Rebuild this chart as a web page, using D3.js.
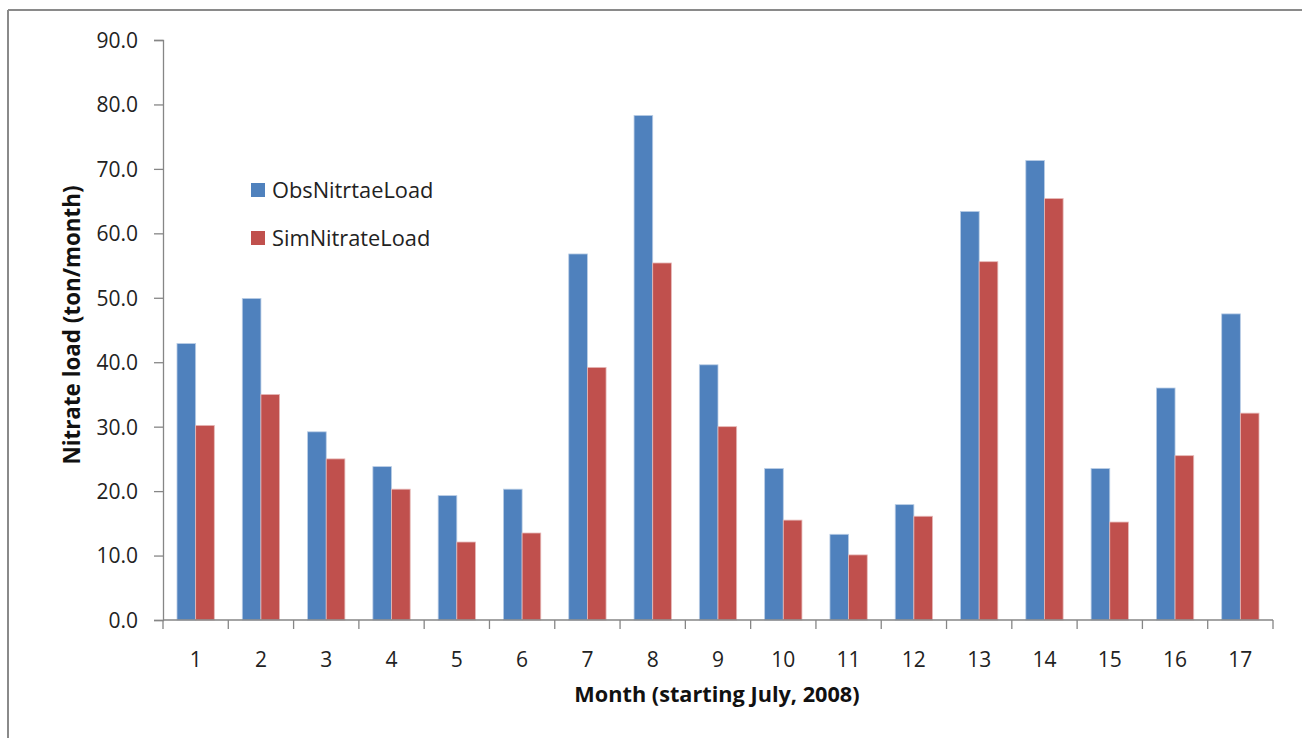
<!DOCTYPE html>
<html><head><meta charset="utf-8">
<script src="https://cdn.jsdelivr.net/npm/d3@7"></script>
<style>body{margin:0;background:#fff;}svg{display:block;}</style>
</head><body>
<script>
const months = ["1","2","3","4","5","6","7","8","9","10","11","12","13","14","15","16","17"];
const obsNitrateLoad = [42.9,49.9,29.2,23.8,19.3,20.3,56.8,78.3,39.6,23.5,13.3,17.9,63.4,71.3,23.5,36.0,47.5];
const simNitrateLoad = [30.2,35.0,25.0,20.3,12.1,13.5,39.2,55.4,30.0,15.5,10.1,16.1,55.6,65.4,15.2,25.5,32.1];
const seriesNames = ["ObsNitrtaeLoad","SimNitrateLoad"];
const colors = ["#4F81BD","#C0504D"];
const yTicks = [0,10,20,30,40,50,60,70,80,90];

(function(){
const W=1302,H=738;
const svg=d3.select("body").append("svg").attr("width",W).attr("height",H);
const font="'Open Sans', 'Noto Sans', sans-serif";

// outer frame
svg.append("line").attr("x1",8).attr("x2",W).attr("y1",10).attr("y2",10).attr("stroke","#8a8a8a").attr("stroke-width",2);
svg.append("line").attr("x1",8).attr("x2",8).attr("y1",10).attr("y2",H).attr("stroke","#8a8a8a").attr("stroke-width",2);

const pL=163,pR=1273,pT=40,pB=620;
const x=d3.scaleBand().domain(months).range([pL,pR]).paddingInner(1.5/3.5).paddingOuter(0.75/3.5);
const xb=d3.scaleBand().domain(months).range([pL,pR]);
const xs=d3.scaleBand().domain([0,1]).range([0,x.bandwidth()]);
const y=d3.scaleLinear().domain([0,90]).range([pB,pT]);

const series=[obsNitrateLoad,simNitrateLoad];
series.forEach((vals,si)=>{
  svg.append("g").selectAll("rect").data(vals).join("rect")
    .attr("x",(d,i)=>x(months[i])+xs(si))
    .attr("width",xs.bandwidth())
    .attr("y",d=>y(d))
    .attr("height",d=>pB-y(d))
    .attr("fill",colors[si])
    .attr("stroke",si===0?"#b9cde5":"#e6b9b8").attr("stroke-width",0.8);
});

// Y axis
const yAxis=d3.axisLeft(y).tickValues(yTicks).tickFormat(d3.format(".1f")).tickSize(9).tickPadding(16);
const gy=svg.append("g").attr("transform",`translate(${pL},0)`).call(yAxis);
gy.select(".domain").attr("stroke","#868686").attr("stroke-width",1.3);
gy.selectAll(".tick line").attr("stroke","#868686").attr("stroke-width",1.3);
gy.selectAll("text").attr("font-family",font).attr("font-size",21).attr("fill","#222").attr("dy","0.35em");

// X axis
const gx=svg.append("g").attr("transform",`translate(0,${pB})`);
gx.append("line").attr("x1",pL).attr("x2",pR).attr("stroke","#868686").attr("stroke-width",1.3);
const bounds=months.map(m=>xb(m)).concat([pR]);
gx.selectAll("line.t").data(bounds).join("line").attr("class","t")
  .attr("x1",d=>d).attr("x2",d=>d).attr("y1",0).attr("y2",9).attr("stroke","#868686").attr("stroke-width",1.3);
gx.selectAll("text").data(months).join("text")
  .attr("x",d=>xb(d)+xb.bandwidth()/2).attr("y",47)
  .attr("text-anchor","middle").attr("font-family",font).attr("font-size",21).attr("fill","#222").text(d=>d);

// axis titles
svg.append("text").attr("x",717).attr("y",702).attr("text-anchor","middle")
  .attr("font-family",font).attr("font-weight","bold").attr("font-size",21.7).attr("fill","#111")
  .text("Month (starting July, 2008)");
svg.append("text").attr("transform","translate(80,325) rotate(-90)").attr("text-anchor","middle")
  .attr("font-family",font).attr("font-weight","bold").attr("font-size",22.4).attr("fill","#111")
  .text("Nitrate load (ton/month)");

// legend
const lg=svg.append("g");
seriesNames.forEach((n,i)=>{
  const yy=183+i*48;
  lg.append("rect").attr("x",251).attr("y",yy).attr("width",14).attr("height",14).attr("fill",colors[i]);
  lg.append("text").attr("x",272).attr("y",yy+14.5).attr("font-family",font).attr("font-size",21.8).attr("fill","#222").text(n);
});
})();
</script>
</body></html>
